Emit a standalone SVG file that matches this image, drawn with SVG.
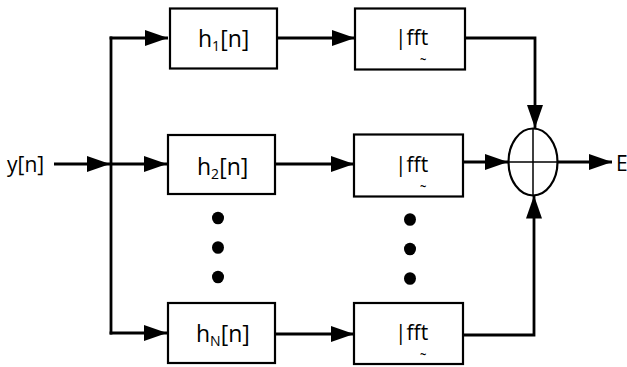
<svg xmlns="http://www.w3.org/2000/svg" width="627" height="367" viewBox="0 0 627 367">
<style>
.box{fill:#fff;stroke:#000;stroke-width:2.2}
.ln{fill:none;stroke:#000;stroke-width:2.8}
.t{font-family:"Open Sans","Noto Sans",sans-serif;font-size:23px;fill:#000}
.s{font-family:"Open Sans","Noto Sans",sans-serif;font-size:21px;fill:#000}
.sub{font-size:14px}
.tl{font-family:"Open Sans","Noto Sans",sans-serif;font-size:11px;font-weight:bold;fill:#000}
</style>
<defs>
<marker id="ah" markerUnits="userSpaceOnUse" markerWidth="24" markerHeight="16" refX="23" refY="8" orient="auto">
<path d="M0,0 L23,8 L0,16 Z" fill="#000"/>
</marker>
</defs>
<g id="connectors">
<path class="ln" d="M54,164 L110,164" marker-end="url(#ah)"/>
<path class="ln" d="M111,36.5 L111,334.5"/>
<path class="ln" d="M109.6,38 L168,38" marker-end="url(#ah)"/>
<path class="ln" d="M111,164 L167,164" marker-end="url(#ah)"/>
<path class="ln" d="M109.6,333 L167,333" marker-end="url(#ah)"/>
<path class="ln" d="M277,38 L355,38" marker-end="url(#ah)"/>
<path class="ln" d="M275,164 L354,164" marker-end="url(#ah)"/>
<path class="ln" d="M275,334 L354,334" marker-end="url(#ah)"/>
<path class="ln" d="M465,38 L535,38 L535,128" marker-end="url(#ah)"/>
<path class="ln" d="M463,162 L508,162" marker-end="url(#ah)"/>
<path class="ln" d="M463,335 L534,335 L534,195.5" marker-end="url(#ah)"/>
<path class="ln" d="M557,162 L612,162" marker-end="url(#ah)"/>
</g>
<g id="input"><text class="s" x="7" y="172">y[n]</text></g>
<g id="output"><text class="s" x="616" y="171">E</text></g>
<g id="h1">
<rect class="box" x="170" y="8.5" width="107" height="60"/>
<text class="t" x="198" y="46.5">h<tspan class="sub" dy="4">1</tspan><tspan dy="-4">[n]</tspan></text>
</g>
<g id="h2">
<rect class="box" x="168" y="135" width="107" height="59"/>
<text class="t" x="197" y="175">h<tspan class="sub" dy="4">2</tspan><tspan dy="-4">[n]</tspan></text>
</g>
<g id="hN">
<rect class="box" x="168" y="303" width="107" height="60"/>
<text class="t" x="196" y="341.5">h<tspan class="sub" dy="4">N</tspan><tspan dy="-4">[n]</tspan></text>
</g>
<g id="fft1">
<rect class="box" x="355" y="8.5" width="110" height="61"/>
<text class="s" x="395" y="45">|fft</text>
<text class="tl" x="420" y="63">~</text>
</g>
<g id="fft2">
<rect class="box" x="354" y="134.5" width="109" height="62"/>
<text class="s" x="395" y="172">|fft</text>
<text class="tl" x="420" y="190">~</text>
</g>
<g id="fftN">
<rect class="box" x="354" y="303" width="109" height="61"/>
<text class="s" x="395" y="340">|fft</text>
<text class="tl" x="420" y="358">~</text>
</g>
<g id="sum">
<ellipse cx="533" cy="162" rx="24.5" ry="33.5" fill="#fff" stroke="#000" stroke-width="2.2"/>
<path d="M508.5,162 L557.5,162 M533,128.5 L533,195.5" stroke="#000" stroke-width="1.5" fill="none"/>
</g>
<g id="dots">
<ellipse cx="218" cy="218" rx="6" ry="6.3"/>
<ellipse cx="218" cy="247.5" rx="6" ry="6.3"/>
<ellipse cx="218" cy="277" rx="6" ry="6.3"/>
<ellipse cx="410" cy="219.5" rx="6" ry="6.3"/>
<ellipse cx="410" cy="249" rx="6" ry="6.3"/>
<ellipse cx="410" cy="278.5" rx="6" ry="6.3"/>
</g>
</svg>
